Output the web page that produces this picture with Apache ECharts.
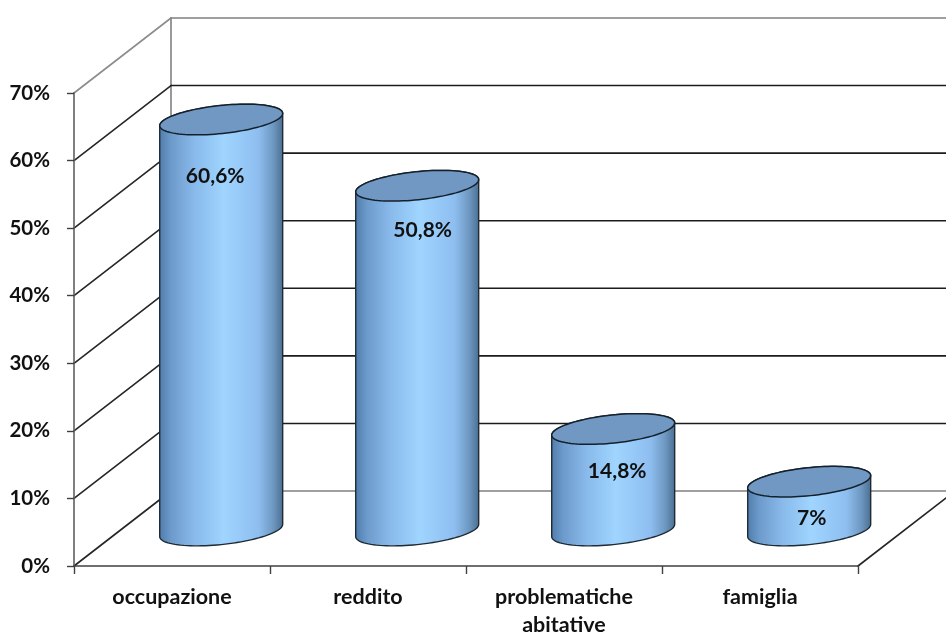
<!DOCTYPE html>
<html>
<head>
<meta charset="utf-8">
<style>html,body{margin:0;padding:0;background:#fff}#c{width:946px;height:633px}</style>
<script src="https://cdn.jsdelivr.net/npm/echarts@6/dist/echarts.min.js"></script>
</head>
<body>
<div id="c"></div>
<script>
const categories = ['occupazione', 'reddito', 'problematiche\nabitative', 'famiglia'];
const values = [60.6, 50.8, 14.8, 7];
const valueLabels = ['60,6%', '50,8%', '14,8%', '7%'];
const wallLevels = [0, 10, 20, 30, 40, 50, 60, 70];

const FONT = 'Lato, "Open Sans", sans-serif';
const DEPTH_X = 97, DEPTH_Y = -75;           // 3D box depth in pixels
const labelNudge = [[-6, 57], [5.5, 44], [4, 42], [2.5, 37]];

function ellipsePoints(cx, cy, a, b, rot, t0, t1, n) {
  const pts = [], c = Math.cos(rot), s = Math.sin(rot);
  for (let i = 0; i <= n; i++) {
    const t = t0 + (t1 - t0) * i / n;
    const ex = a * Math.cos(t), ey = b * Math.sin(t);
    pts.push([cx + ex * c - ey * s, cy + ex * s + ey * c]);
  }
  return pts;
}

function renderWalls(params, api) {
  const v = api.value(1);
  const rect = params.coordSys;
  const y = api.coord([0, v])[1];
  const x0 = rect.x, x1 = rect.x + rect.width;
  const frame = v === 0 || v === 70;
  const color = frame ? '#808080' : '#1c1c1c';
  const ln = (a, b, c, w) => ({
    type: 'line',
    shape: { x1: a[0], y1: a[1], x2: b[0], y2: b[1] },
    style: { stroke: c, lineWidth: w || 1.6, lineCap: 'round' }
  });
  const kids = [
    ln([x0, y], [x0 + DEPTH_X, y + DEPTH_Y], v === 70 ? '#8c8c8c' : '#262626'),
    ln([x0 + DEPTH_X, y + DEPTH_Y], [x1 + DEPTH_X, y + DEPTH_Y], color)
  ];
  if (v === 0) {
    const top = api.coord([0, 70])[1];
    kids.push(ln([x0 + DEPTH_X, top + DEPTH_Y], [x0 + DEPTH_X, y + DEPTH_Y], '#808080'));
    kids.push(ln([x1, y], [x1 + DEPTH_X, y + DEPTH_Y], '#262626'));
  }
  return { type: 'group', children: kids };
}

function renderCylinder(params, api) {
  const i = params.dataIndex;
  const top = api.coord([i, api.value(1)]);
  const base = api.coord([i, 0]);
  const cx = top[0] + DEPTH_X / 2 + 0.7;
  const yTop = top[1] + DEPTH_Y / 2 + 0.5;
  const yBase = base[1] + DEPTH_Y / 2 + 2;
  const a = 61.8, b = 14, rot = -6 * Math.PI / 180;
  const tTan = Math.atan2(-b * Math.sin(rot), a * Math.cos(rot)); // x-extreme of the tilted ellipse
  const lower = ellipsePoints(cx, yBase, a, b, rot, tTan, tTan + Math.PI, 48);
  const upperEdge = ellipsePoints(cx, yTop, a, b, rot, tTan + Math.PI, tTan + 2 * Math.PI, 48);
  const fullTop = ellipsePoints(cx, yTop, a, b, rot, 0, 2 * Math.PI, 96);
  const body = lower.concat(upperEdge);
  const grad = new echarts.graphic.LinearGradient(0, 0, 1, 0, [
    { offset: 0, color: '#4f7cab' },
    { offset: 0.10, color: '#6d9bcb' },
    { offset: 0.28, color: '#88b9ea' },
    { offset: 0.52, color: '#a0d5ff' },
    { offset: 0.80, color: '#8ebef0' },
    { offset: 0.92, color: '#6d97c0' },
    { offset: 1, color: '#4a6d8f' }
  ]);
  const n = labelNudge[i];
  return {
    type: 'group',
    children: [
      { type: 'polygon', shape: { points: body }, style: { fill: grad, stroke: '#1f2a33', lineWidth: 1.4 } },
      { type: 'polygon', shape: { points: fullTop }, style: { fill: '#7098c2', stroke: '#14202b', lineWidth: 1.5 } },
      { type: 'text', style: {
          x: cx + n[0], y: yTop + n[1], text: valueLabels[i], fill: '#111',
          font: 'bold 21px ' + FONT, textAlign: 'center', textVerticalAlign: 'middle' } }
    ]
  };
}

const chart = echarts.init(document.getElementById('c'), null, { renderer: 'canvas' });
chart.setOption({
  animation: false,
  backgroundColor: '#fff',
  grid: { left: 74, right: 88, top: 93, bottom: 67, containLabel: false, outerBoundsMode: 'none' },
  xAxis: {
    type: 'category',
    data: categories,
    axisLine: { show: true, lineStyle: { color: '#404040', width: 1.6 } },
    axisTick: { show: true, alignWithLabel: false, length: 8, lineStyle: { color: '#404040', width: 1.4 } },
    axisLabel: { color: '#111', fontFamily: FONT, fontWeight: 'bold', fontSize: 21.5, lineHeight: 28, margin: 17, interval: 0 },
    z: 4
  },
  yAxis: {
    type: 'value', min: 0, max: 70, interval: 10,
    splitLine: { show: false },
    axisLine: { show: true, lineStyle: { color: '#606060', width: 1.6 } },
    axisTick: { show: true, length: 7, lineStyle: { color: '#404040', width: 1.4 } },
    axisLabel: { color: '#111', fontFamily: FONT, fontWeight: 'bold', fontSize: 20.5, margin: 24, formatter: '{value}%' },
    z: 4
  },
  series: [
    { type: 'custom', name: 'walls', clip: false, silent: true, z: 1,
      data: wallLevels.map(v => [0, v]), renderItem: renderWalls },
    { type: 'custom', name: 'valori', clip: false, silent: true, z: 3,
      data: values.map((v, i) => [i, v]), renderItem: renderCylinder }
  ]
});
</script>
</body>
</html>
